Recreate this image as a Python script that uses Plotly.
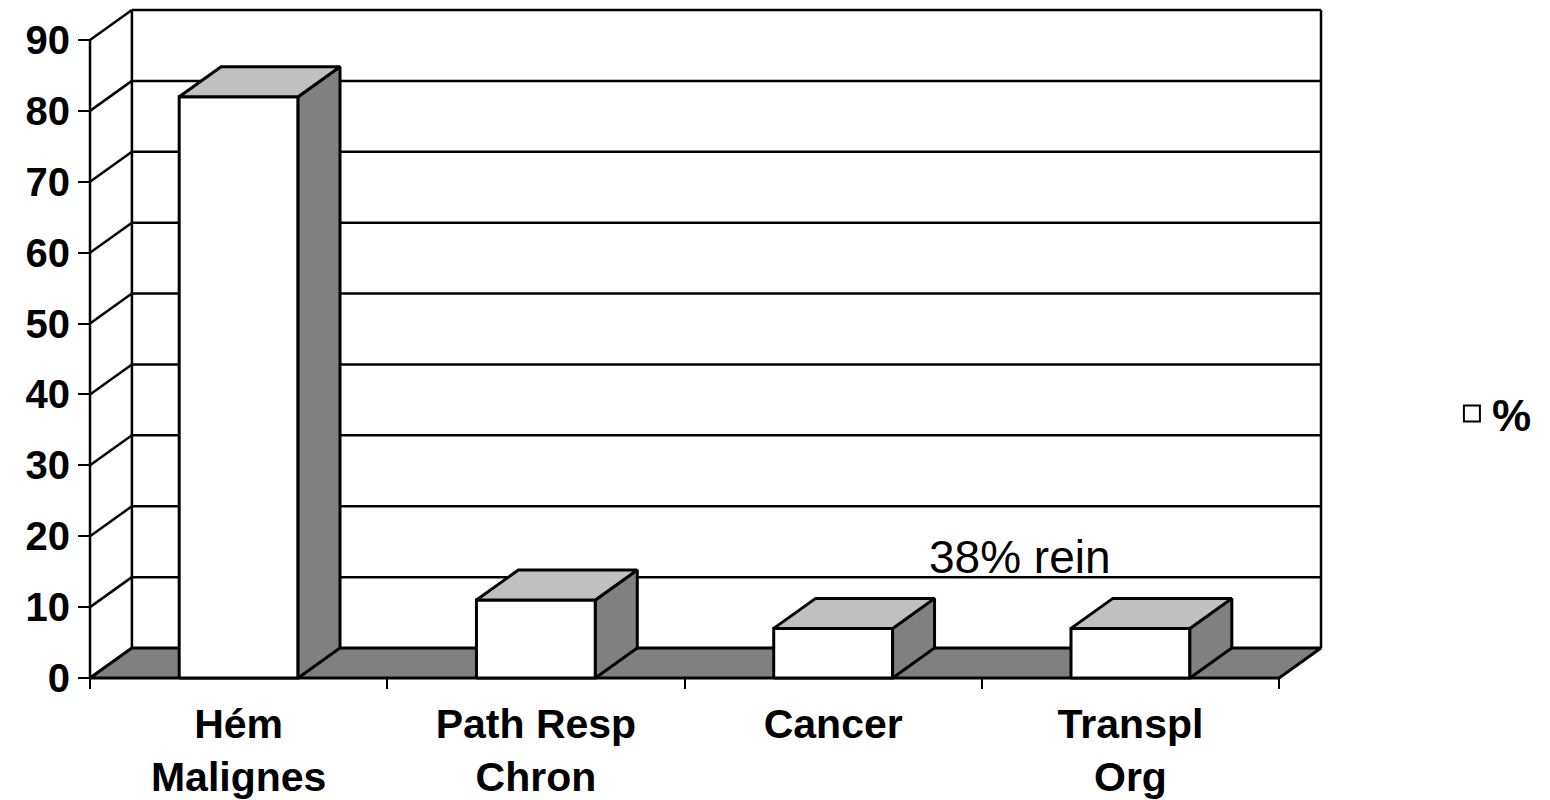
import plotly.graph_objects as go

# ---------------- data ----------------
categories = ["Hém<br>Malignes", "Path Resp<br>Chron", "Cancer", "Transpl<br>Org"]
values = [82, 11, 7, 7]
y_ticks = [0, 10, 20, 30, 40, 50, 60, 70, 80, 90]
series_name = "%"
note_text = "38% rein"

# ---------------- 3D projection style ----------------
DX = 0.141      # depth offset in category units
DY = 4.23       # depth offset in value units
BAR_W = 0.40    # bar width in category units
N = len(categories)
YMAX = y_ticks[-1]

XPAD = 0.0202
YPAD_TOP = 0.282
YPAD_BOT = 0.987
x_range = [-XPAD, N + DX + XPAD]
y_range = [-YPAD_BOT, YMAX + DY + YPAD_TOP]

LINE = "black"
LW = 3

fig = go.Figure()


def poly(xs, ys, fill, width=LW):
    fig.add_trace(go.Scatter(
        x=xs + [xs[0]], y=ys + [ys[0]], mode="lines", fill="toself",
        fillcolor=fill, line=dict(color=LINE, width=width),
        hoverinfo="skip", showlegend=False))


def lines(xs, ys, width=2):
    fig.add_trace(go.Scatter(
        x=xs, y=ys, mode="lines", line=dict(color=LINE, width=width),
        hoverinfo="skip", showlegend=False))


# back wall gridlines + walls
gx, gy = [], []
for t in y_ticks[1:]:
    gx += [DX, N + DX, None]
    gy += [t + DY, t + DY, None]
# side wall diagonals
for t in y_ticks:
    gx += [0, DX, None]
    gy += [t, t + DY, None]
# back wall left and right edges
gx += [DX, DX, None, N + DX, N + DX, None]
gy += [DY, YMAX + DY, None, DY, YMAX + DY, None]
# front value axis line
gx += [0, 0, None]
gy += [0, YMAX, None]
lines(gx, gy, width=2.5)

# floor
poly([0, N, N + DX, DX], [0, 0, DY, DY], "#808080")

# bars
for i, v in enumerate(values):
    c = i + 0.5
    x0, x1 = c - BAR_W / 2, c + BAR_W / 2
    poly([x0, x1, x1, x0], [0, 0, v, v], "white")
    poly([x1, x1 + DX, x1 + DX, x1], [0, DY, v + DY, v], "#808080")
    poly([x0, x1, x1 + DX, x0 + DX], [v, v, v + DY, v + DY], "#c0c0c0")

# legend entry (no data, only legend swatch) on the label axis
fig.add_trace(go.Scatter(
    x=[None], y=[None], mode="markers", name=series_name, xaxis="x2",
    marker=dict(symbol="square", size=22, color="white",
                line=dict(color="black", width=2)),
    showlegend=True, hoverinfo="skip"))

fig.add_annotation(
    x=3.13, y=17.0, xref="x", yref="y", text=note_text, showarrow=False,
    xanchor="center", yanchor="middle",
    font=dict(family="Liberation Sans", size=46, color="black"))

bold = dict(family="Liberation Sans", size=40, color="black", weight="bold")

fig.update_layout(
    width=1550, height=800,
    margin=dict(l=76, r=231, t=0, b=123),
    paper_bgcolor="white", plot_bgcolor="white",
    showlegend=True,
    legend=dict(x=1.1005, y=0.4003, xanchor="left", yanchor="middle",
                font=dict(family="Liberation Sans", size=44, color="black",
                          weight="bold"),
                itemsizing="trace", bgcolor="rgba(0,0,0,0)"),
    xaxis=dict(range=x_range, anchor="free",
               position=(0 - y_range[0]) / (y_range[1] - y_range[0]),
               tickvals=list(range(N + 1)), showticklabels=False,
               ticks="outside", ticklen=10, tickwidth=2, tickcolor="black",
               showgrid=False, zeroline=False, showline=False, fixedrange=True),
    xaxis2=dict(range=x_range, overlaying="x", matches="x", anchor="free",
                position=(0 - y_range[0]) / (y_range[1] - y_range[0]),
                side="bottom",
                tickvals=[i + 0.5 for i in range(N)], ticktext=categories,
                ticks="", tickfont=dict(bold, size=41),
                ticklabelstandoff=18,
                showgrid=False, zeroline=False, showline=False),
    yaxis=dict(range=y_range, anchor="free",
               position=(0 - x_range[0]) / (x_range[1] - x_range[0]),
               tickvals=y_ticks, ticks="outside", ticklen=12, tickwidth=2,
               tickcolor="black", tickfont=bold,
               showgrid=False, zeroline=False, showline=False, fixedrange=True),
)

fig.write_html("out.html")
